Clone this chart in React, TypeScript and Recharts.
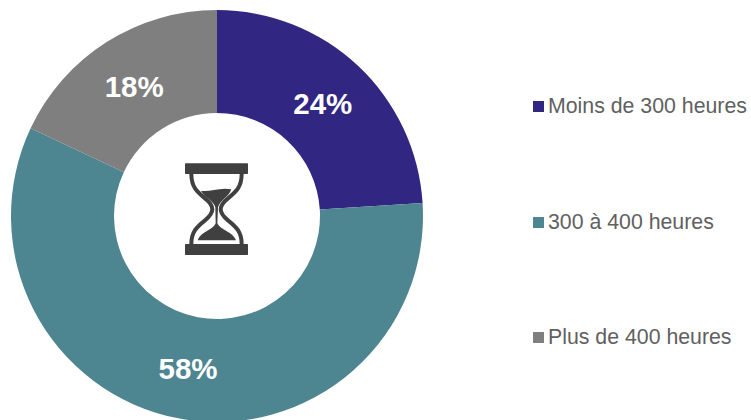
import React from "react";
import { PieChart, Pie, Legend } from "recharts";

const categories = ["Moins de 300 heures", "300 à 400 heures", "Plus de 400 heures"];
const shares = [24, 58, 18];
const colours = ["#312783", "#4d8590", "#7f7f7f"];

const rows = categories.map((name, i) => ({ name, value: shares[i], fill: colours[i] }));
const RAD = Math.PI / 180;

const renderLabel = (p: any) => {
  const r = (p.innerRadius + p.outerRadius) / 2;
  const x = p.cx + r * Math.cos(-p.midAngle * RAD);
  const y = p.cy + r * Math.sin(-p.midAngle * RAD);
  return (
    <text x={x} y={y + 0.5} fill="#ffffff" textAnchor="middle" dominantBaseline="central"
      style={{ fontFamily: "'Liberation Sans', Arial, sans-serif", fontWeight: 700, fontSize: 29.5 }}>
      {p.value}%
    </text>
  );
};

const renderLegend = (props: any) => (
  <div style={{ fontFamily: "'Liberation Sans', Arial, sans-serif", fontSize: 21.3, color: "#606060" }}>
    {(props.payload || []).map((e: any, i: number) => (
      <div key={i} style={{ height: 115.5, display: "flex", alignItems: "flex-start", whiteSpace: "nowrap" }}>
        <span style={{ display: "inline-block", width: 11, height: 11, background: e.color, marginTop: 6, marginRight: 4 }} />
        <span style={{ lineHeight: "23px" }}>{e.value}</span>
      </div>
    ))}
  </div>
);

const Hourglass = () => (
  <svg width={95} height={115} viewBox="0 0 285 345"
    style={{ position: "absolute", left: 170, top: 150, pointerEvents: "none" }}>
    <g fill="#404040">
      <rect x="45" y="40" width="189" height="32" rx="2" />
      <rect x="45" y="282" width="189" height="33" rx="2" />
      <path d="M93 122 C115 128 150 110 184 118 C176 142 150 150 144 172 L142 220 C150 240 188 245 198 271 L83 271 C92 245 130 240 137 220 L136 172 C130 150 102 142 93 122 Z" />
    </g>
    <g fill="none" stroke="#404040" strokeWidth="12">
      <path d="M64 72 C64 110 80 125 105 145 C120 157 127 165 127 178 C127 191 120 199 105 211 C80 231 64 246 64 282" />
      <path d="M215 72 C215 110 199 125 174 145 C159 157 152 165 152 178 C152 191 159 199 174 211 C199 231 215 246 215 282" />
    </g>
  </svg>
);

export default function App() {
  return (
    <div style={{ position: "absolute", left: 0, top: 0, width: 751, height: 420, overflow: "hidden", background: "#fff" }}>
      <PieChart width={751} height={420} margin={{ top: 0, right: 0, bottom: 0, left: 0 }}>
        <Pie
          data={rows}
          dataKey="value"
          nameKey="name"
          cx={217}
          cy={216}
          innerRadius={103}
          outerRadius={206}
          startAngle={90}
          endAngle={-270}
          stroke="none"
          labelLine={false}
          label={renderLabel}
          isAnimationActive={false}
        />
        <Legend
          layout="vertical"
          itemSorter={null}
          content={renderLegend}
          wrapperStyle={{ position: "absolute", left: 533, top: 95, width: 218, bottom: "auto" }}
        />
      </PieChart>
      <Hourglass />
    </div>
  );
}
